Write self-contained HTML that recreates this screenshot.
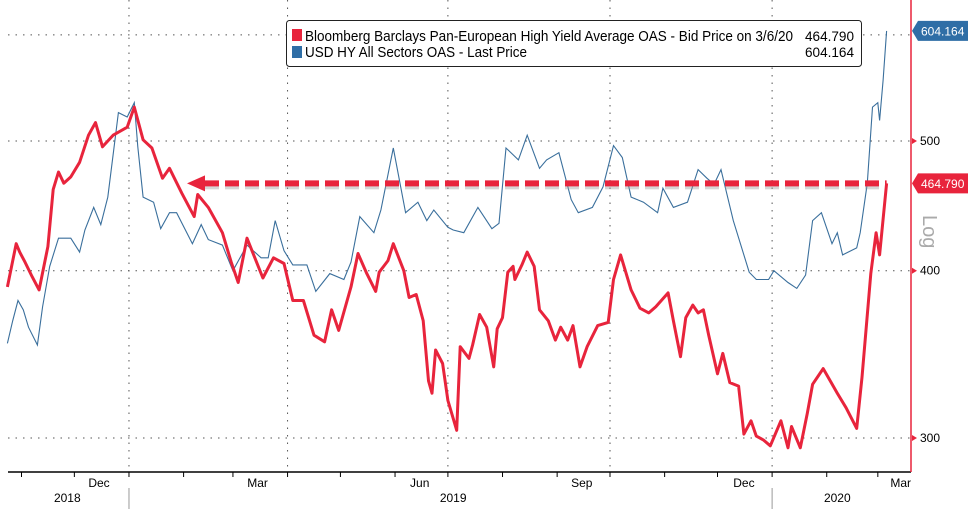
<!DOCTYPE html>
<html><head><meta charset="utf-8"><style>
body{margin:0;background:#fff;width:976px;height:509px;overflow:hidden;font-family:"Liberation Sans",sans-serif}
svg{display:block}
</style></head><body>
<svg id="c" width="976" height="509" font-family="Liberation Sans, sans-serif"></svg>
<script>
// days since 2018-10-24
const redDays=[0,5,7,10,14,18,23,26,29,32,36,41,46,50,54,60,68,72,77,82,88,92,99,106,108,114,122,127,131,136,145,151,157,162,168,174,180,184,188,195,199,204,209,211,216,219,225,228,232,236,239,241,243,247,250,255,257,262,264,268,272,276,278,281,284,287,288,292,295,299,302,307,311,314,318,321,325,329,335,341,344,348,354,359,364,368,375,378,382,385,389,392,395,398,403,406,410,415,418,422,425,429,433,439,443,445,450,454,457,463,471,476,482,485,490,493,495,499];
const redVals=[389,419,413,406,396,387,417,460,474,465,470,482,505,516,495,505,512,530,501,494,469,477,457,439,456,446,427,406,392,423,395,409,405,380,380,358,354,374,361,389,412,398,386,399,407,419,400,382,384,367,331,324,349,341,320,304,351,344,352,371,363,339,362,369,399,403,394,404,413,403,374,367,355,363,355,364,339,351,364,366,394,411,387,375,372,376,385,367,345,369,377,372,374,358,335,347,330,328,302,309,301,299,296,309,295,306,295,313,329,338,324,316,305,333,398,427,411,464.79];
const blueDays=[0,3,6,9,12,17,20,24,29,36,41,44,49,53,57,63,68,72,74,77,83,87,92,96,105,110,114,122,128,136,144,148,152,157,162,170,175,183,191,195,200,208,212,219,226,233,238,242,250,253,259,267,275,279,283,290,295,302,306,313,320,324,332,338,344,349,354,361,369,372,378,386,392,397,401,405,412,421,425,432,435,443,448,453,457,462,468,471,474,482,484,488,491,494,495,497,499];
const blueVals=[353,367,380,374,363,352,376,403,423,423,413,429,446,433,454,525,521,534,495,454,450,430,442,442,419,433,422,418,400,418,409,409,436,414,404,404,386,398,394,406,439,427,444,494,442,450,436,444,431,429,427,446,430,434,494,484,505,477,484,490,452,442,446,462,496,486,454,450,442,461,446,450,476,469,464,476,436,399,394,394,400,392,388,397,436,442,419,427,411,416,427,465,530,534,518,555,604.164];
const yTicks=[300,400,500];
const monthLabels=["Dec","Mar","Jun","Sep","Dec","Mar"];
const monthLabelDays=[52,142,234,326,418,507];
const gridDays=[69,159,250,342,434];
const monthTickDays=[8,38,69,100,128,159,189,220,250,281,312,342,373,403,434,465,494];
const years=["2018","2019","2020"];
const yearDays=[34,253,471];
const lastRed=464.79, lastBlue=604.164;

const X=d=>7.4+1.762*d;
const Y=v=>438-581.5*Math.log(v/300);
const svg=document.getElementById('c');
const NS='http://www.w3.org/2000/svg';
function mk(t,a,p){const e=document.createElementNS(NS,t);for(const k in a)e.setAttribute(k,a[k]);(p||svg).appendChild(e);return e;}

[300,400,500,600].forEach(v=>{const l=mk('line',{x1:8,x2:910,y1:Y(v),y2:Y(v),stroke:'#555','stroke-width':1,'stroke-dasharray':'1.5,6'});

});
gridDays.forEach(d=>{const l=mk('line',{x1:X(d),x2:X(d),y1:0,y2:472,stroke:'#555','stroke-width':1,'stroke-dasharray':'1.5,6'});

});

const bp=blueDays.map((d,i)=>X(d).toFixed(1)+','+Y(blueVals[i]).toFixed(1)).join(' ');
const bl=mk('polyline',{points:bp,fill:'none',stroke:'#3a6f9c','stroke-width':1.1});



const ay=Y(lastRed);
const g=mk('g',{});


mk('line',{x1:205,x2:X(redDays[redDays.length-1]),y1:ay+3,y2:ay+3,stroke:'#999','stroke-width':6,'stroke-dasharray':'14,6',opacity:0.4},g);
mk('line',{x1:205,x2:X(redDays[redDays.length-1]),y1:ay,y2:ay,stroke:'#e8243c','stroke-width':6,'stroke-dasharray':'14,6'},g);
mk('polygon',{points:`187,${ay} 205,${ay-8} 205,${ay+8}`,fill:'#e8243c'},g);

const rp=redDays.map((d,i)=>X(d).toFixed(1)+','+Y(redVals[i]).toFixed(1)).join(' ');
const rl=mk('polyline',{points:rp,fill:'none',stroke:'#e8243c','stroke-width':3,'stroke-linejoin':'round'});



const xa=mk('line',{x1:8,x2:911,y1:472,y2:472,stroke:'#000','stroke-width':1.5});


const ya=mk('line',{x1:911,x2:911,y1:0,y2:472,stroke:'#e8243c','stroke-width':1.5});


monthTickDays.forEach(d=>{const t=mk('line',{x1:X(d),x2:X(d),y1:472,y2:477,stroke:'#000','stroke-width':1});

});
monthLabels.forEach((s,i)=>{const t=mk('text',{x:X(monthLabelDays[i]),y:487,'font-size':12,'text-anchor':'middle',fill:'#000'});t.textContent=s;

});
years.forEach((s,i)=>{const t=mk('text',{x:X(yearDays[i]),y:502,'font-size':12,'text-anchor':'middle',fill:'#000'});t.textContent=s;

});
[69,434].forEach(d=>{const l=mk('line',{x1:X(d),x2:X(d),y1:488,y2:509,stroke:'#999'});

});
yTicks.forEach(v=>{const y=Y(v);
const p=mk('polygon',{points:`912,${y-3} 917,${y} 912,${y+3}`,fill:'#e8243c'});


const t=mk('text',{x:920,y:y+4,'font-size':12,fill:'#000'});t.textContent=v;

});
const lg=mk('text',{x:0,y:0,'font-size':20,fill:'#aaa',transform:'translate(923,215) rotate(90)'});lg.textContent='Log';



function tag(v,col,name){const y=Y(v);const g=mk('g',{});


mk('polygon',{points:`912,${y} 918,${y-10} 968,${y-10} 968,${y+10} 918,${y+10}`,fill:col},g);
const t=mk('text',{x:921,y:y+4.5,'font-size':12,fill:'#fff'},g);t.textContent=v.toFixed(3);}
tag(lastBlue,'#2f6ea6','usd-hy-last-tag');
tag(lastRed,'#e8243c','pan-european-last-tag');

const L=mk('g',{});


mk('rect',{x:286.5,y:20.5,width:575,height:46,rx:3,fill:'#fff',stroke:'#222'},L);
mk('rect',{x:292,y:29,width:10,height:12,fill:'#e8243c'},L);
mk('rect',{x:292,y:46,width:10,height:12,fill:'#2f6ea6'},L);
const t1=mk('text',{x:305,y:41,'font-size':14.5,fill:'#000',textLength:488,lengthAdjust:'spacingAndGlyphs'},L);t1.textContent='Bloomberg Barclays Pan-European High Yield Average OAS - Bid Price on 3/6/20';


const t2=mk('text',{x:305,y:57,'font-size':14.5,fill:'#000',textLength:222,lengthAdjust:'spacingAndGlyphs'},L);t2.textContent='USD HY All Sectors OAS - Last Price';


const v1=mk('text',{x:854,y:41,'font-size':14,'text-anchor':'end',fill:'#000',textLength:49,lengthAdjust:'spacingAndGlyphs'},L);v1.textContent=lastRed.toFixed(3);
const v2=mk('text',{x:854,y:57,'font-size':14,'text-anchor':'end',fill:'#000',textLength:49,lengthAdjust:'spacingAndGlyphs'},L);v2.textContent=lastBlue.toFixed(3);
</script>
</body></html>
